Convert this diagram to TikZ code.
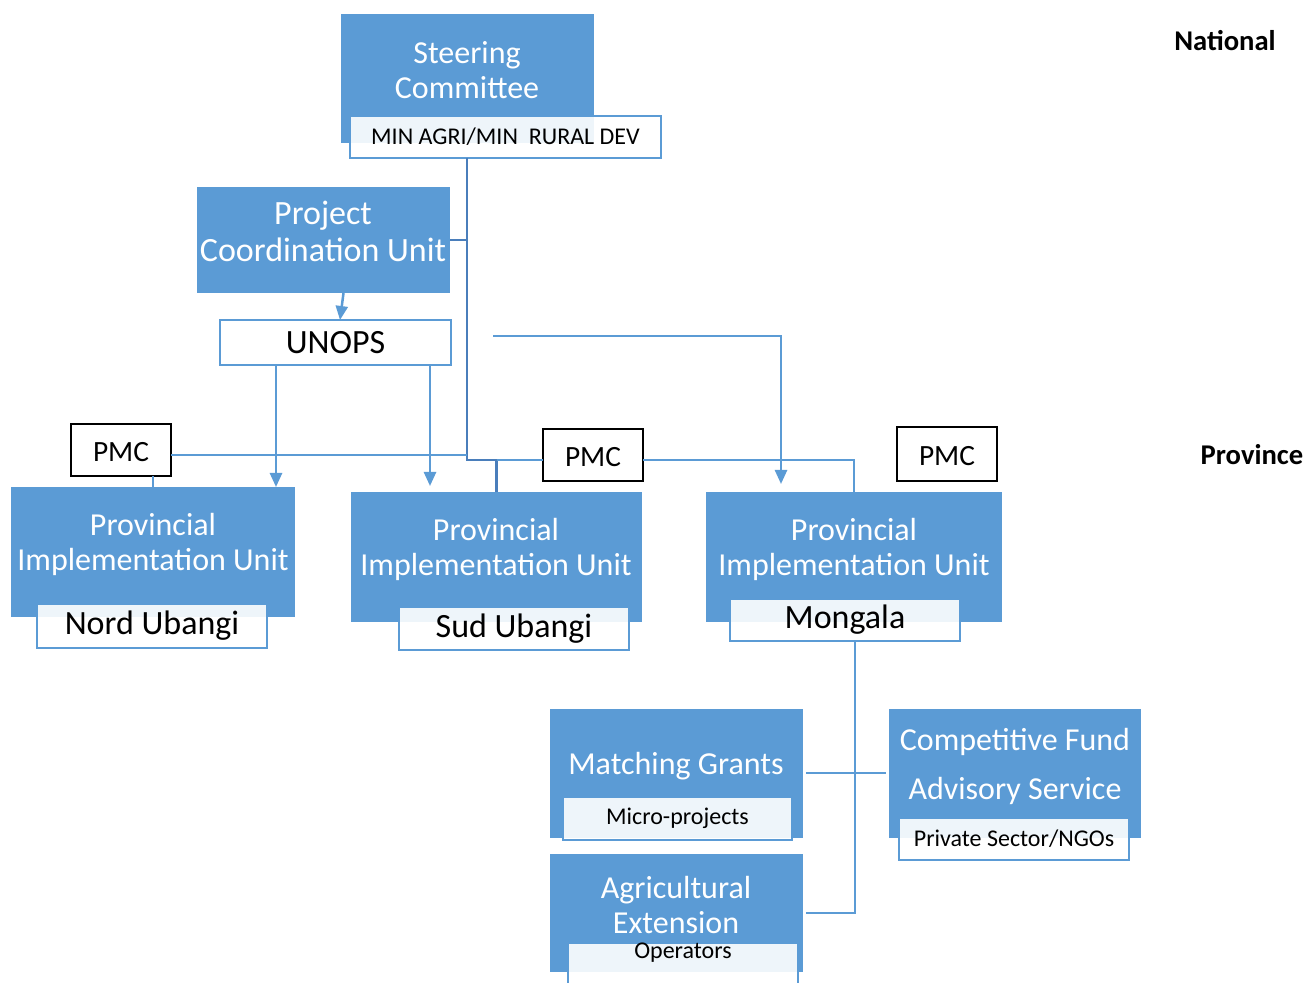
\documentclass[tikz,border=0pt]{standalone}
\usepackage{fontspec}
\setmainfont{Carlito}
\usetikzlibrary{arrows.meta,calc}
\definecolor{bl}{HTML}{5B9BD5}
\definecolor{bld}{HTML}{4A7EBB}
\begin{document}
\begin{tikzpicture}[x=0.5pt,y=-0.5pt,
  box/.style={fill=bl,draw=none,inner sep=0pt,outer sep=0pt,anchor=north west},
  sub/.style={fill=white,fill opacity=0.9,text opacity=1,draw=bl,line width=1pt,inner sep=0pt,outer sep=0pt,anchor=north west},
  pmcbox/.style={draw=black,fill=white,line width=0.6pt,inner sep=0pt,outer sep=0pt,anchor=north west,minimum width=50pt,minimum height=26pt,text height=11.6pt,text depth=0pt,font=\fontsize{14.7}{17}\selectfont},
  wt/.style={text=white,align=center,font=\fontsize{16}{17.5}\selectfont,inner sep=0pt},
  bt/.style={text=black,align=center,inner sep=0pt},
  conn/.style={draw=bl,line width=1.25pt},
  trunk/.style={draw=bld,line width=1.35pt},
  arr/.style={conn,-{Triangle[width=6pt,length=7pt]}}
]
\fill[white] (0,0) rectangle (1308,983);
\path[use as bounding box] (0,0) rectangle (1308,983);
\clip (0,0) rectangle (1308,983);

% blue boxes
\node[box,minimum width=126.5pt,minimum height=64.5pt] (sc) at (341,14) {};
\node[box,minimum width=126.5pt,minimum height=53pt] (pcu) at (197,187) {};
\node[box,minimum width=142pt,minimum height=65pt] (piu1) at (11,487) {};
\node[box,minimum width=145.5pt,minimum height=65pt] (piu2) at (351,492) {};
\node[box,minimum width=148pt,minimum height=65pt] (piu3) at (706,492) {};
\node[box,minimum width=126.5pt,minimum height=64.5pt] (mg) at (550,709) {};
\node[box,minimum width=126pt,minimum height=64.5pt] (cf) at (889,709) {};
\node[box,minimum width=126.5pt,minimum height=59pt] (ae) at (550,854) {};

% texts in blue boxes
\node[wt] (sc-t) at (467,70.5) {Steering\\Committee};
\node[wt,font=\fontsize{17}{18.5}\selectfont] (pcu-t) at (323,231.5) {Project\\Coordination Unit};
\node[wt] (piu1-t) at (153,544.5) {Provincial\\Implementation Unit};
\node[wt] (piu2-t) at (496,549.5) {Provincial\\Implementation Unit};
\node[wt] (piu3-t) at (854,549.5) {Provincial\\Implementation Unit};
\node[wt] (mg-t) at (676,766) {Matching Grants};
\node[wt,font=\fontsize{16}{24.5}\selectfont] (cf-t) at (1015,766.5) {Competitive Fund\\Advisory Service};
\node[wt] (ae-t) at (676,905.5) {Agricultural\\Extension};

% sub boxes
\node[sub,minimum width=155.5pt,minimum height=21pt,font=\fontsize{12}{14}\selectfont] (min) at (350,116) {MIN AGRI/MIN\ \ RURAL DEV};
\node[sub,fill opacity=1,minimum width=115.5pt,minimum height=22.5pt,font=\fontsize{17}{20}\selectfont] (unops) at (220,320) {UNOPS};
\node[sub,minimum width=115pt,minimum height=22pt,font=\fontsize{17}{20}\selectfont] (nord) at (37,604) {Nord Ubangi};
\node[sub,minimum width=115pt,minimum height=21.5pt,font=\fontsize{17}{20}\selectfont] (sud) at (399,607) {Sud Ubangi};
\node[sub,minimum width=115pt,minimum height=21pt,font=\fontsize{17}{20}\selectfont] (mon) at (730,599) {Mongala};
\node[sub,minimum width=114.5pt,minimum height=21.5pt,font=\fontsize{12}{14}\selectfont] (micro) at (563,797) {Micro-projects};
\node[sub,minimum width=115pt,minimum height=21pt,font=\fontsize{12}{14}\selectfont] (priv) at (899,818) {Private Sector/NGOs};
\node[sub,minimum width=115pt,minimum height=30pt] (oper) at (568,943) {};
\node[bt,font=\fontsize{12}{14}\selectfont] (oper-t) at (683,953) {Operators};

% PMC boxes
\node[pmcbox] (pmc1) at (71,424) {PMC};
\node[pmcbox] (pmc2) at (543,429) {PMC};
\node[pmcbox,minimum height=27pt] (pmc3) at (897,427) {PMC};

% level labels
\node[bt,font=\fontsize{14.3}{17}\selectfont\bfseries] (nat) at (1225,41) {National};
\node[bt,font=\fontsize{14.3}{17}\selectfont\bfseries] (prov) at (1252,455) {Province};

% connectors
\coordinate (j0) at (467,455);
\coordinate (j1) at (467,460);
\draw[trunk] (min.south -| j1) -- (j1) -- (j1 -| piu2.north) -- (piu2.north);
\draw[conn] (j1 -| piu2.north) -- (pmc2.west |- j1);
\draw[conn] (pmc2.east |- j1) -- (j1 -| piu3.north) -- (piu3.north);
\draw[conn] (pmc1.east |- j0) -- (j0);
\draw[conn] (pmc1.south -| piu1.north) -- (piu1.north);
\draw[trunk] (pcu.east) -- (pcu.east -| j0);

\draw[arr] ([xshift=10pt]pcu.south) -- ([xshift=2.25pt]unops.north);
\coordinate (a1) at (276,0);
\coordinate (a2) at (430,0);
\draw[arr] (unops.south -| a1) -- (piu1.north -| a1);
\draw[arr,shorten >=3pt] (unops.south -| a2) -- (piu2.north -| a2);
\coordinate (f0) at (493,336);
\coordinate (f1) at (781,336);
\draw[arr,shorten >=4pt] (f0) -- (f1) -- (piu3.north -| f1);

\coordinate (m1) at (855,913);
\coordinate (h) at (0,773);
\draw[conn] (mon.south -| m1) -- (m1) -- ([xshift=1.5pt]ae.east |- m1);
\draw[conn] ([xshift=1.5pt]mg.east |- h) -- ([xshift=-1.5pt]cf.west |- h);
\end{tikzpicture}
\end{document}
